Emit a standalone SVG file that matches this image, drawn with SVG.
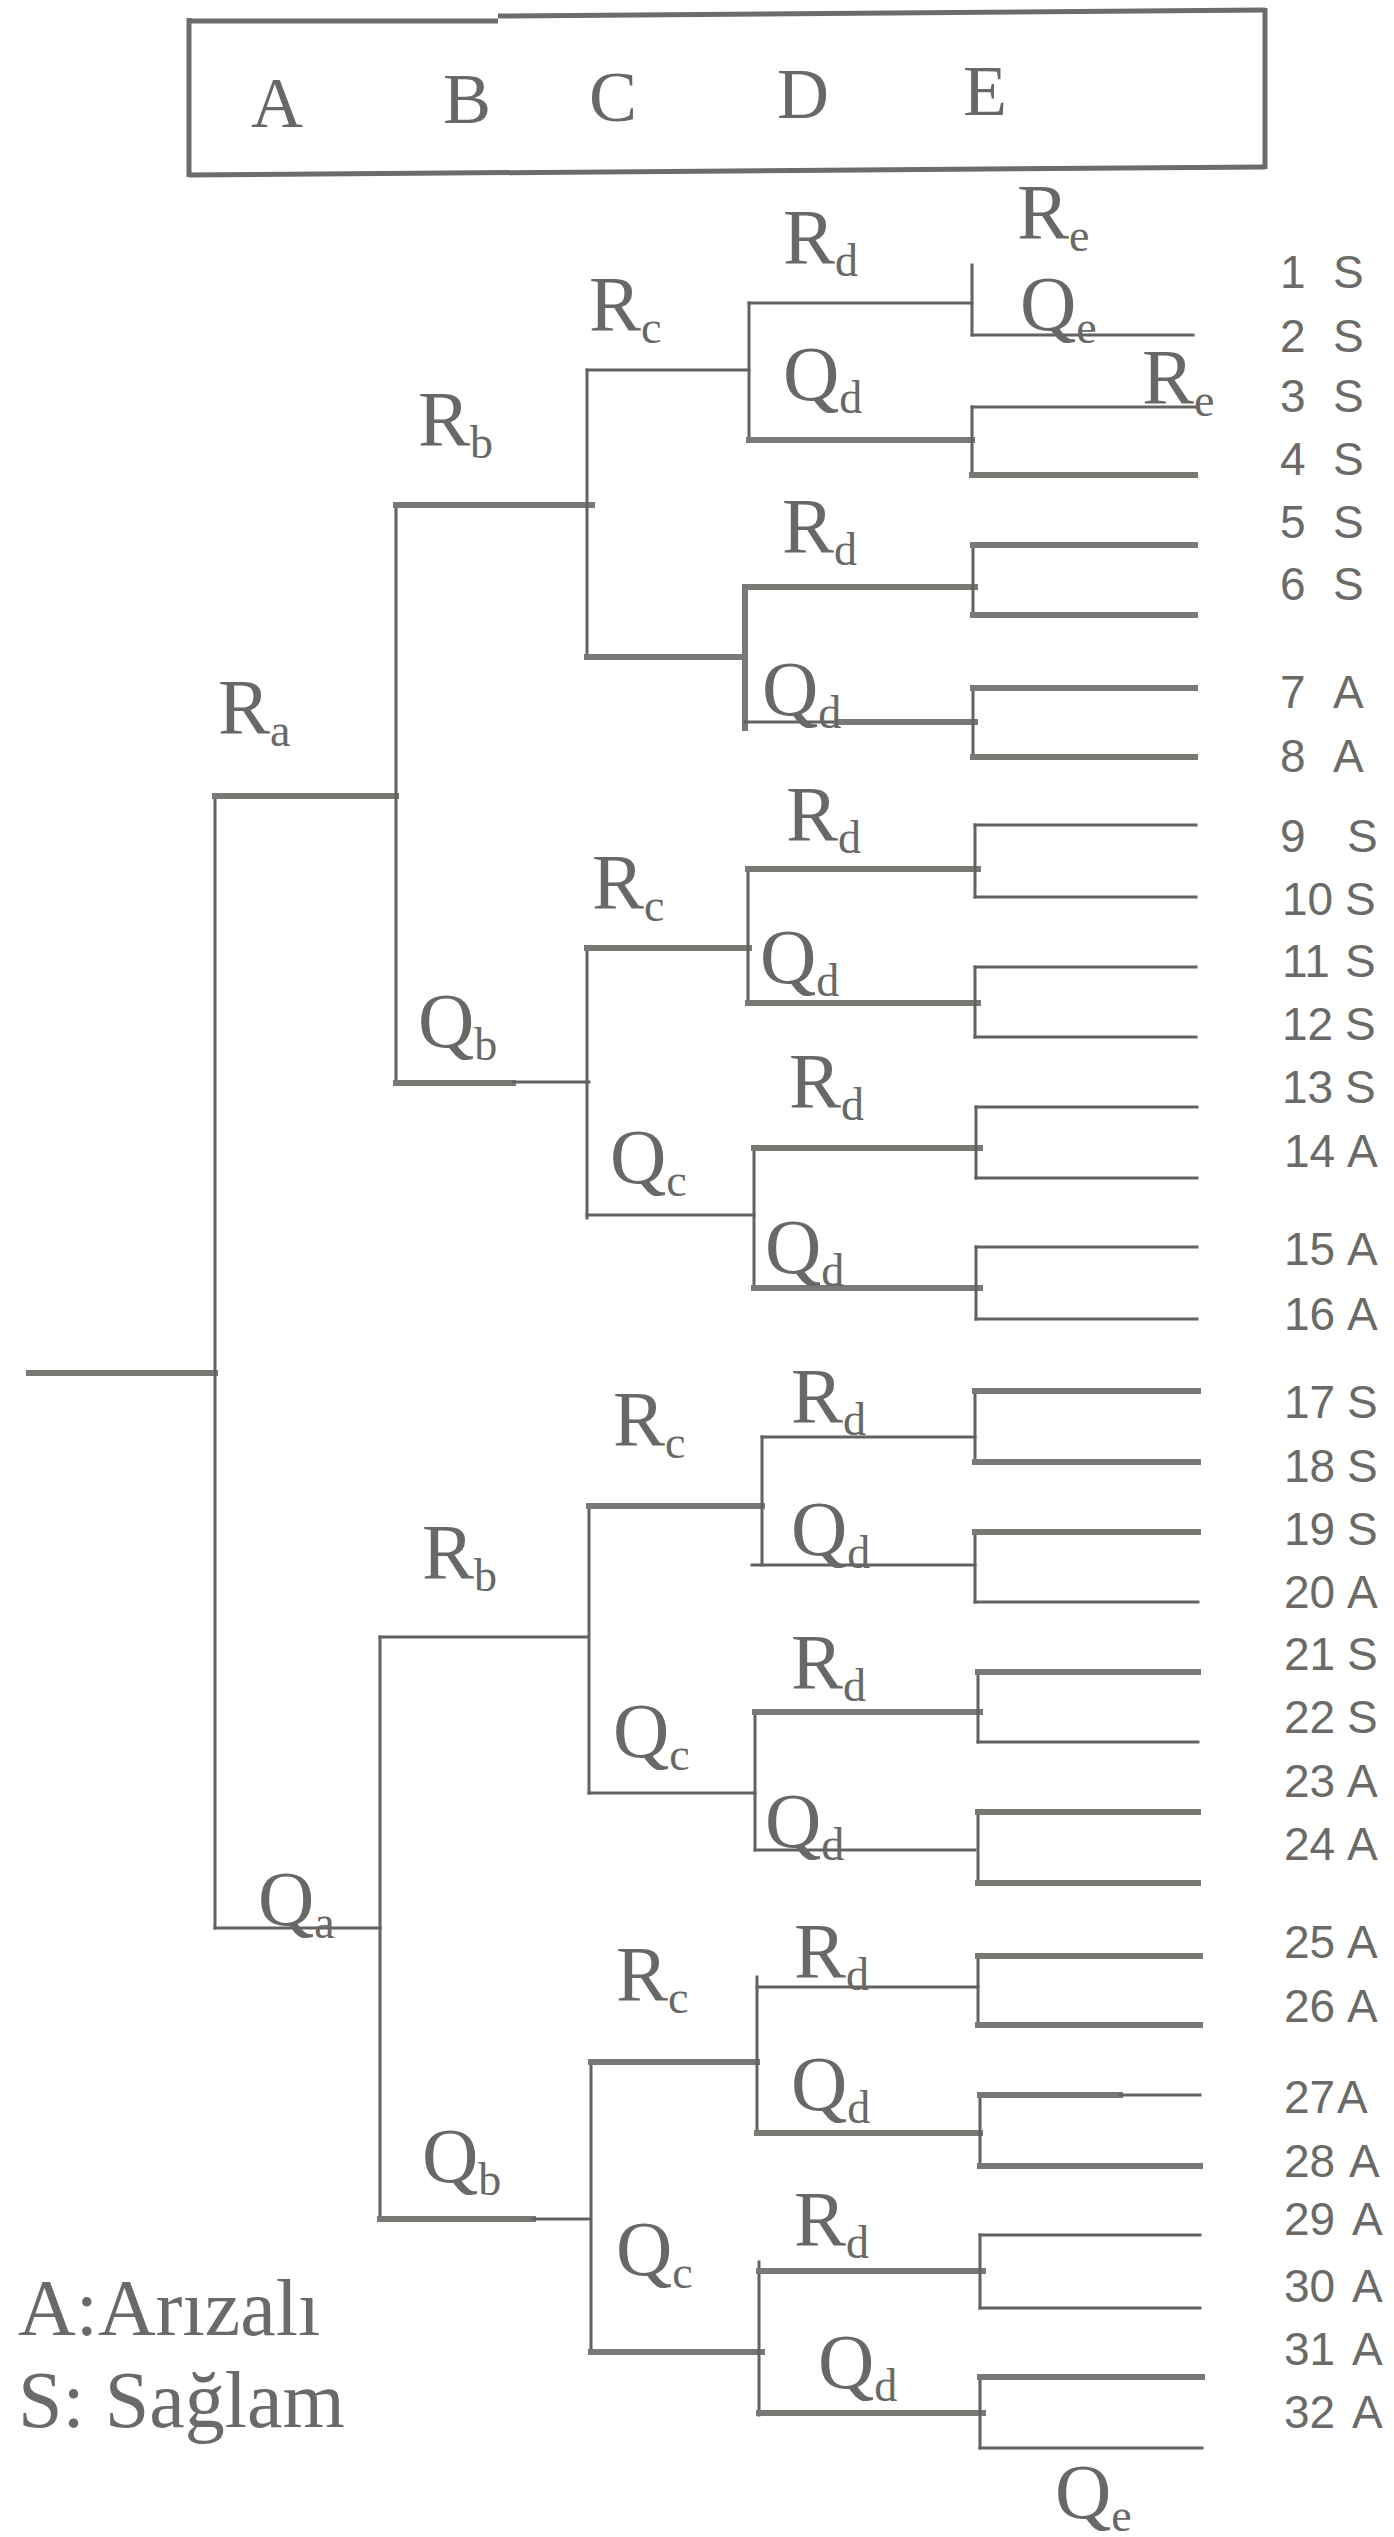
<svg xmlns="http://www.w3.org/2000/svg" width="1394" height="2537" viewBox="0 0 1394 2537">
<style>
.t{stroke:#626260;stroke-width:3;fill:none;stroke-linecap:square}
.k{stroke:#787875;stroke-width:6}
.bx{stroke:#6c6c6a;stroke-width:5;fill:none}
.lb{font-family:"Liberation Serif","Times New Roman",serif;font-size:78px;fill:#686866}
.sb{font-size:46px}
.hd{font-family:"Liberation Serif","Times New Roman",serif;font-size:72px;fill:#686866;text-anchor:middle}
.lg{font-family:"Liberation Serif","Times New Roman",serif;font-size:80px;fill:#6a6a68}
.num{font-family:"Liberation Sans Narrow","Liberation Sans",sans-serif;font-size:46px;fill:#6a6a68}
</style>
<rect width="1394" height="2537" fill="#ffffff"/>
<g id="header">
<path class="bx" d="M189 18 V177"/>
<path class="bx" d="M1265 8 V169"/>
<path class="bx" d="M187 21 H498" stroke-width="6"/>
<path class="bx" d="M498 16 L1265 10"/>
<path class="bx" d="M189 175 L1265 167"/>
<text class="hd" x="277" y="127">A</text>
<text class="hd" x="467" y="123">B</text>
<text class="hd" x="613" y="121">C</text>
<text class="hd" x="803" y="118">D</text>
<text class="hd" x="985" y="115">E</text>
</g>
<g id="connectors">
<path class="t k" d="M29 1373 H215"/>
<path class="t" d="M215 796 V1928"/>
<path class="t k" d="M215 796 H396"/>
<path class="t" d="M215 1928 H380"/>
<path class="t" d="M396 505 V1083"/>
<path class="t k" d="M396 505 H592"/>
<path class="t k" d="M396 1083 H513"/>
<path class="t" d="M513 1082 H589"/>
<path class="t" d="M587 370 V657"/>
<path class="t" d="M587 370 H749"/>
<path class="t k" d="M587 657 H745"/>
<path class="t" d="M749 303 V440"/>
<path class="t" d="M749 303 H972"/>
<path class="t k" d="M749 440 H972"/>
<path class="t" d="M972 265 V335"/>
<path class="t" d="M972 335 H1193"/>
<path class="t" d="M972 407 V475"/>
<path class="t" d="M972 407 H1195"/>
<path class="t k" d="M972 475 H1195"/>
<path class="t k" d="M745 587 V728"/>
<path class="t k" d="M745 587 H975"/>
<path class="t" d="M745 722 H837"/>
<path class="t k" d="M837 722 H975"/>
<path class="t" d="M973 545 V615"/>
<path class="t k" d="M973 545 H1195"/>
<path class="t k" d="M973 615 H1195"/>
<path class="t" d="M973 688 V757"/>
<path class="t k" d="M973 688 H1195"/>
<path class="t k" d="M973 757 H1195"/>
<path class="t" d="M587 948 V1218"/>
<path class="t k" d="M587 948 H749"/>
<path class="t" d="M587 1215 H754"/>
<path class="t" d="M748 869 V1003"/>
<path class="t k" d="M748 869 H978"/>
<path class="t k" d="M748 1003 H978"/>
<path class="t" d="M975 825 V897"/>
<path class="t" d="M975 825 H1196"/>
<path class="t" d="M975 897 H1196"/>
<path class="t" d="M975 967 V1037"/>
<path class="t" d="M975 967 H1196"/>
<path class="t" d="M975 1037 H1196"/>
<path class="t" d="M754 1148 V1288"/>
<path class="t k" d="M754 1148 H980"/>
<path class="t k" d="M754 1288 H980"/>
<path class="t" d="M976 1107 V1178"/>
<path class="t" d="M976 1107 H1197"/>
<path class="t" d="M976 1178 H1197"/>
<path class="t" d="M976 1247 V1319"/>
<path class="t" d="M976 1247 H1197"/>
<path class="t" d="M976 1319 H1197"/>
<path class="t" d="M380 1637 V2219"/>
<path class="t" d="M380 1637 H587"/>
<path class="t k" d="M380 2219 H533"/>
<path class="t" d="M533 2219 H589"/>
<path class="t" d="M589 1506 V1793"/>
<path class="t k" d="M589 1506 H762"/>
<path class="t" d="M589 1793 H755"/>
<path class="t" d="M762 1437 V1565"/>
<path class="t" d="M762 1437 H975"/>
<path class="t" d="M752 1565 H975"/>
<path class="t" d="M975 1391 V1462"/>
<path class="t k" d="M975 1391 H1198"/>
<path class="t k" d="M975 1462 H1198"/>
<path class="t" d="M975 1532 V1602"/>
<path class="t k" d="M975 1532 H1198"/>
<path class="t" d="M975 1602 H1198"/>
<path class="t" d="M755 1712 V1850"/>
<path class="t k" d="M755 1712 H980"/>
<path class="t" d="M755 1850 H975"/>
<path class="t" d="M978 1672 V1742"/>
<path class="t k" d="M978 1672 H1198"/>
<path class="t" d="M978 1742 H1198"/>
<path class="t" d="M978 1812 V1883"/>
<path class="t k" d="M978 1812 H1198"/>
<path class="t k" d="M978 1883 H1198"/>
<path class="t" d="M591 2062 V2352"/>
<path class="t k" d="M591 2062 H757"/>
<path class="t k" d="M591 2352 H762"/>
<path class="t" d="M757 1977 V2133"/>
<path class="t" d="M757 1987 H978"/>
<path class="t k" d="M757 2133 H980"/>
<path class="t" d="M978 1956 V2025"/>
<path class="t k" d="M978 1956 H1200"/>
<path class="t k" d="M978 2025 H1200"/>
<path class="t" d="M980 2095 V2166"/>
<path class="t k" d="M980 2095 H1120"/>
<path class="t" d="M1120 2095 H1200"/>
<path class="t k" d="M980 2166 H1200"/>
<path class="t" d="M759 2262 V2415"/>
<path class="t k" d="M759 2271 H983"/>
<path class="t k" d="M759 2413 H983"/>
<path class="t" d="M980 2235 V2308"/>
<path class="t" d="M980 2235 H1200"/>
<path class="t" d="M980 2308 H1200"/>
<path class="t" d="M980 2377 V2448"/>
<path class="t k" d="M980 2377 H1202"/>
<path class="t" d="M980 2448 H1202"/>
</g>
<g id="n-Ra"><text class="lb" x="218" y="733">R<tspan class="sb" dy="13">a</tspan></text></g>
<g id="n-Qa"><text class="lb" x="258" y="1925">Q<tspan class="sb" dy="13">a</tspan></text></g>
<g id="n-Rb1"><text class="lb" x="418" y="445">R<tspan class="sb" dy="13">b</tspan></text></g>
<g id="n-Qb1"><text class="lb" x="418" y="1047">Q<tspan class="sb" dy="13">b</tspan></text></g>
<g id="n-Rb2"><text class="lb" x="422" y="1578">R<tspan class="sb" dy="13">b</tspan></text></g>
<g id="n-Qb2"><text class="lb" x="422" y="2182">Q<tspan class="sb" dy="13">b</tspan></text></g>
<g id="n-Rc1"><text class="lb" x="589" y="330">R<tspan class="sb" dy="13">c</tspan></text></g>
<g id="n-Rc2"><text class="lb" x="592" y="908">R<tspan class="sb" dy="13">c</tspan></text></g>
<g id="n-Qc1"><text class="lb" x="610" y="1183">Q<tspan class="sb" dy="13">c</tspan></text></g>
<g id="n-Rc3"><text class="lb" x="613" y="1445">R<tspan class="sb" dy="13">c</tspan></text></g>
<g id="n-Qc3"><text class="lb" x="613" y="1757">Q<tspan class="sb" dy="13">c</tspan></text></g>
<g id="n-Rc4"><text class="lb" x="616" y="2000">R<tspan class="sb" dy="13">c</tspan></text></g>
<g id="n-Qc4"><text class="lb" x="616" y="2275">Q<tspan class="sb" dy="13">c</tspan></text></g>
<g id="n-Rd1"><text class="lb" x="783" y="263">R<tspan class="sb" dy="13">d</tspan></text></g>
<g id="n-Qd1"><text class="lb" x="783" y="400">Q<tspan class="sb" dy="13">d</tspan></text></g>
<g id="n-Rd2"><text class="lb" x="782" y="552">R<tspan class="sb" dy="13">d</tspan></text></g>
<g id="n-Qd2"><text class="lb" x="762" y="715">Q<tspan class="sb" dy="13">d</tspan></text></g>
<g id="n-Rd3"><text class="lb" x="786" y="840">R<tspan class="sb" dy="13">d</tspan></text></g>
<g id="n-Qd3"><text class="lb" x="760" y="983">Q<tspan class="sb" dy="13">d</tspan></text></g>
<g id="n-Rd4"><text class="lb" x="789" y="1107">R<tspan class="sb" dy="13">d</tspan></text></g>
<g id="n-Qd4"><text class="lb" x="765" y="1273">Q<tspan class="sb" dy="13">d</tspan></text></g>
<g id="n-Rd5"><text class="lb" x="791" y="1422">R<tspan class="sb" dy="13">d</tspan></text></g>
<g id="n-Qd5"><text class="lb" x="791" y="1555">Q<tspan class="sb" dy="13">d</tspan></text></g>
<g id="n-Rd6"><text class="lb" x="791" y="1688">R<tspan class="sb" dy="13">d</tspan></text></g>
<g id="n-Qd6"><text class="lb" x="765" y="1847">Q<tspan class="sb" dy="13">d</tspan></text></g>
<g id="n-Rd7"><text class="lb" x="794" y="1977">R<tspan class="sb" dy="13">d</tspan></text></g>
<g id="n-Qd7"><text class="lb" x="791" y="2110">Q<tspan class="sb" dy="13">d</tspan></text></g>
<g id="n-Rd8"><text class="lb" x="794" y="2245">R<tspan class="sb" dy="13">d</tspan></text></g>
<g id="n-Qd8"><text class="lb" x="818" y="2388">Q<tspan class="sb" dy="13">d</tspan></text></g>
<g id="n-Re1"><text class="lb" x="1017" y="238">R<tspan class="sb" dy="13">e</tspan></text></g>
<g id="n-Qe1"><text class="lb" x="1020" y="330">Q<tspan class="sb" dy="13">e</tspan></text></g>
<g id="n-Re2"><text class="lb" x="1142" y="403">R<tspan class="sb" dy="13">e</tspan></text></g>
<g id="n-Qe2"><text class="lb" x="1055" y="2518">Q<tspan class="sb" dy="13">e</tspan></text></g>
<g id="leaves" class="num">
<g id="l1"><text x="1280" y="288">1 <tspan x="1333">S</tspan></text></g>
<g id="l2"><text x="1280" y="352">2 <tspan x="1333">S</tspan></text></g>
<g id="l3"><text x="1280" y="412">3 <tspan x="1333">S</tspan></text></g>
<g id="l4"><text x="1280" y="475">4 <tspan x="1333">S</tspan></text></g>
<g id="l5"><text x="1280" y="538">5 <tspan x="1333">S</tspan></text></g>
<g id="l6"><text x="1280" y="600">6 <tspan x="1333">S</tspan></text></g>
<g id="l7"><text x="1280" y="708">7 <tspan x="1333">A</tspan></text></g>
<g id="l8"><text x="1280" y="772">8 <tspan x="1333">A</tspan></text></g>
<g id="l9"><text x="1280" y="852">9 <tspan x="1347">S</tspan></text></g>
<g id="l10"><text x="1282" y="915">10 <tspan x="1345">S</tspan></text></g>
<g id="l11"><text x="1282" y="977">11 <tspan x="1345">S</tspan></text></g>
<g id="l12"><text x="1282" y="1040">12 <tspan x="1345">S</tspan></text></g>
<g id="l13"><text x="1282" y="1103">13 <tspan x="1345">S</tspan></text></g>
<g id="l14"><text x="1284" y="1167">14 <tspan x="1347">A</tspan></text></g>
<g id="l15"><text x="1284" y="1265">15 <tspan x="1347">A</tspan></text></g>
<g id="l16"><text x="1284" y="1330">16 <tspan x="1347">A</tspan></text></g>
<g id="l17"><text x="1284" y="1418">17 <tspan x="1347">S</tspan></text></g>
<g id="l18"><text x="1284" y="1482">18 <tspan x="1347">S</tspan></text></g>
<g id="l19"><text x="1284" y="1545">19 <tspan x="1347">S</tspan></text></g>
<g id="l20"><text x="1284" y="1608">20 <tspan x="1347">A</tspan></text></g>
<g id="l21"><text x="1284" y="1670">21 <tspan x="1347">S</tspan></text></g>
<g id="l22"><text x="1284" y="1733">22 <tspan x="1347">S</tspan></text></g>
<g id="l23"><text x="1284" y="1797">23 <tspan x="1347">A</tspan></text></g>
<g id="l24"><text x="1284" y="1860">24 <tspan x="1347">A</tspan></text></g>
<g id="l25"><text x="1284" y="1958">25 <tspan x="1347">A</tspan></text></g>
<g id="l26"><text x="1284" y="2022">26 <tspan x="1347">A</tspan></text></g>
<g id="l27"><text x="1284" y="2113">27<tspan x="1337">A</tspan></text></g>
<g id="l28"><text x="1284" y="2177">28 <tspan x="1349">A</tspan></text></g>
<g id="l29"><text x="1284" y="2235">29 <tspan x="1352">A</tspan></text></g>
<g id="l30"><text x="1284" y="2302">30 <tspan x="1352">A</tspan></text></g>
<g id="l31"><text x="1284" y="2365">31 <tspan x="1352">A</tspan></text></g>
<g id="l32"><text x="1284" y="2428">32 <tspan x="1352">A</tspan></text></g>
</g>
<g id="legend">
<text class="lg" x="18" y="2335">A:Arızalı</text>
<text class="lg" x="18" y="2427">S: Sağlam</text>
</g>
</svg>
